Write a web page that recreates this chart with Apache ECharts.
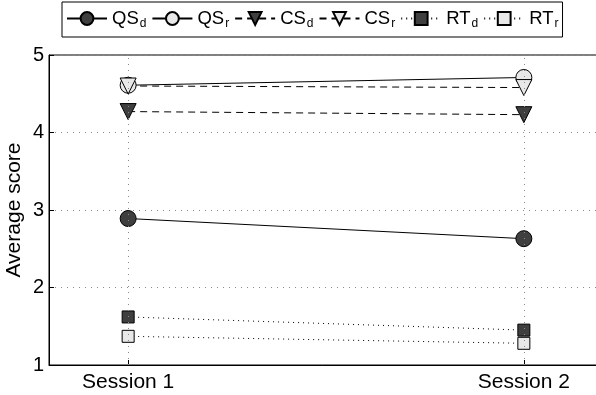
<!DOCTYPE html>
<html>
<head>
<meta charset="utf-8">
<script src="https://cdn.jsdelivr.net/npm/echarts@6/dist/echarts.min.js"></script>
<style>
html, body { margin: 0; padding: 0; background: #fff; }
#chart { width: 596px; height: 395px; }
</style>
</head>
<body>
<div id="chart"></div>
<script>
// Session positions on the x axis and their labels
const sessions = [1, 2];
const sessionLabels = ['Session 1', 'Session 2'];

// Average scores per measure
const qsD = [2.89, 2.63];
const qsR = [4.61, 4.71];
const csD = [4.27, 4.23];
const csR = [4.60, 4.58];
const rtD = [1.62, 1.45];
const rtR = [1.37, 1.28];

const yTicks = [1, 2, 3, 4, 5];

const DARK = '#3f3f3f';
const LIGHT = '#e8e8e8';

function pts(vals) {
  return sessions.map((s, i) => [s, vals[i]]);
}

function mk(name, base, sub, vals, symbol, size, fill, lineType) {
  return {
    name: name,
    type: 'line',
    data: pts(vals),
    symbol: symbol,
    symbolSize: size,
    symbolRotate: symbol === 'triangle' ? 180 : 0,
    itemStyle: { color: fill, borderColor: '#000', borderWidth: 1 },
    lineStyle: { color: '#000', width: 1, type: lineType },
    emphasis: { disabled: true },
    animation: false,
    z: 3,
    _label: '{b|' + base + '}{s|' + sub + '}'
  };
}

const seriesDefs = [
  mk('QSd', 'QS', 'd', qsD, 'circle', 16, DARK, 'solid'),
  mk('QSr', 'QS', 'r', qsR, 'circle', 16, LIGHT, 'solid'),
  mk('CSd', 'CS', 'd', csD, 'triangle', 16, DARK, [7, 5]),
  mk('CSr', 'CS', 'r', csR, 'triangle', 16, LIGHT, [7, 5]),
  mk('RTd', 'RT', 'd', rtD, 'rect', 12, DARK, [1, 4]),
  mk('RTr', 'RT', 'r', rtR, 'rect', 12, LIGHT, [1, 4])
];
const labelMap = {};
seriesDefs.forEach(s => { labelMap[s.name] = s._label; delete s._label; });

// vertical dotted guide lines at each session
seriesDefs.push({
  type: 'line',
  data: [],
  silent: true,
  animation: false,
  markLine: {
    silent: true,
    symbol: 'none',
    label: { show: false },
    lineStyle: { color: '#8a8a8a', width: 1, type: [1, 5] },
    data: sessions.map(s => ({ xAxis: s }))
  },
  z: 1
});

const FONT = 'Liberation Sans, Arial, sans-serif';

const chart = echarts.init(document.getElementById('chart'), null, { renderer: 'canvas' });
chart.setOption({
  backgroundColor: '#fff',
  animation: false,
  textStyle: { fontFamily: FONT },
  grid: {
    left: 49, top: 55, width: 554, bottom: 30,
    outerBoundsMode: 'none',
    containLabel: false,
    show: true, borderColor: '#000', borderWidth: 1, backgroundColor: 'transparent'
  },
  legend: {
    left: 62, top: 2,
    padding: [7, 4, 7, 4],
    itemGap: 5,
    itemWidth: 40,
    itemHeight: 16,
    borderColor: '#000',
    borderWidth: 1,
    selectedMode: false,
    data: ['QSd', 'QSr', 'CSd', 'CSr', 'RTd', 'RTr'],
    formatter: n => labelMap[n],
    textStyle: {
      fontFamily: FONT,
      color: '#000',
      rich: {
        b: { fontSize: 18.5, color: '#000', fontFamily: FONT },
        s: { fontSize: 12, color: '#000', fontFamily: FONT, padding: [11, 0, 0, 1] }
      }
    }
  },
  xAxis: {
    type: 'value',
    min: 0.8,
    max: 2.2,
    axisLine: { show: true, lineStyle: { color: '#000', width: 1 } },
    axisTick: { show: true, inside: true, length: 5, customValues: sessions, lineStyle: { color: '#000' } },
    axisLabel: {
      customValues: sessions,
      formatter: v => sessionLabels[sessions.indexOf(v)] || '',
      color: '#000', fontSize: 21, fontFamily: FONT, margin: 7
    },
    splitLine: { show: false }
  },
  yAxis: {
    type: 'value',
    min: yTicks[0],
    max: yTicks[yTicks.length - 1],
    interval: 1,
    name: 'Average score',
    nameLocation: 'middle',
    nameGap: 24,
    nameMoveOverlap: false,
    nameTextStyle: { color: '#000', fontSize: 21, fontFamily: FONT },
    axisLine: { show: true, lineStyle: { color: '#000', width: 1 } },
    axisTick: { show: true, inside: true, length: 5, lineStyle: { color: '#000' } },
    axisLabel: { color: '#000', fontSize: 20, fontFamily: FONT, margin: 5 },
    splitLine: { show: true, lineStyle: { color: '#8a8a8a', width: 1, type: [1, 5] } }
  },
  series: seriesDefs
});
</script>
</body>
</html>
